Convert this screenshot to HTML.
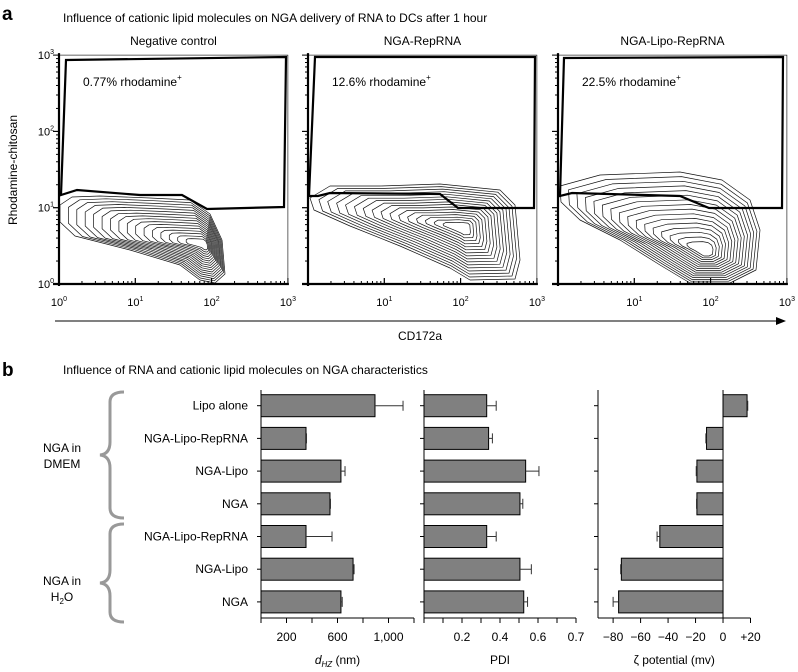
<!DOCTYPE html>
<html><head><meta charset="utf-8"><style>
body{margin:0;background:#fff}
svg{display:block;font-family:"Liberation Sans",Arial,sans-serif}
</style></head><body>
<svg id="s" width="798" height="672" viewBox="0 0 798 672">
<text x="2" y="20" font-size="19" font-weight="bold">a</text>
<text x="63" y="22" font-size="12">Influence of cationic lipid molecules on NGA delivery of RNA to DCs after 1 hour</text>
<text x="8" y="170" font-size="12" transform="rotate(-90 8 170)" text-anchor="middle" dominant-baseline="hanging">Rhodamine-chitosan</text>
<line x1="55" y1="321" x2="778" y2="321" stroke="#000" stroke-width="1"/>
<polygon points="776,317 786,321 776,325" fill="#000"/>
<text x="420" y="340" font-size="12" text-anchor="middle">CD172a</text>
<text x="2" y="376" font-size="19" font-weight="bold">b</text>
<text x="63" y="374" font-size="12">Influence of RNA and cationic lipid molecules on NGA characteristics</text>
<text x="62" y="452" font-size="12" text-anchor="middle"><tspan x="62">NGA in</tspan><tspan x="62" dy="16">DMEM</tspan></text>
<text x="62" y="585" font-size="12" text-anchor="middle"><tspan x="62">NGA in</tspan><tspan x="62" dy="16">H<tspan font-size="8" dy="3">2</tspan><tspan dy="-3">O</tspan></tspan></text>
<path d="M124,392 Q110,392 110,402 L110,442 Q110,454 100,455 Q110,456 110,468 L110,508 Q110,518 124,518" fill="none" stroke="#999" stroke-width="3"/>
<path d="M124,524 Q110,524 110,534 L110,570 Q110,582 100,583 Q110,584 110,596 L110,612 Q110,622 124,622" fill="none" stroke="#999" stroke-width="3"/>
<g id="g"></g>
</svg>
<script>
const NS="http://www.w3.org/2000/svg";
const G=document.getElementById('g');
function mk(t,a,p){const e=document.createElementNS(NS,t);for(const k in a)e.setAttribute(k,a[k]);(p||G).appendChild(e);return e;}

// ---------- Panel a: flow plots ----------
const flowTitles=["Negative control","NGA-RepRNA","NGA-Lipo-RepRNA"];
const flowPercents=["0.77%","12.6%","22.5%"];
const flowX0=[59,308,558];
const decade=76.3, yBottom=284;
const gates=[
 [[66,60],[286,57],[284,207],[207,209],[182,195],[140,195],[77,190],[61,195]],
 [[315,57],[535,57],[534,208],[458,208],[440,194],[330,193],[318,196],[309,196]],
 [[564,58],[783,57],[782,208],[709,208],[680,196],[572,193],[560,196]]];
const blobs=[
 [[60,205],[72,197],[100,196],[150,198],[190,200],[210,214],[222,240],[225,274],[215,283],[200,280],[180,265],[130,250],[75,236],[60,222]],
 [[310,198],[330,186],[380,186],[440,184],[500,190],[515,205],[520,260],[515,279],[470,280],[450,268],[400,246],[350,226],[314,210]],
 [[560,186],[600,175],[680,172],[722,180],[750,200],[760,230],[756,270],[730,283],[690,283],[660,265],[620,240],[580,220],[561,202]]];
const centers=[[205,245],[463,228],[706,252]];
flowX0.forEach((x0,i)=>{
  const p=mk('g',{});
  
  
  const x1=x0+3*decade, yT=yBottom-3*decade;
  const tt=mk('text',{x:(x0+x1)/2,y:45,'font-size':12,'text-anchor':'middle'},p);tt.textContent=flowTitles[i];
  
  const fr=mk('rect',{x:x0,y:yT,width:3*decade,height:3*decade,fill:'none',stroke:'#000','stroke-width':0.6},p);
  
  // contours
  const b=blobs[i],c=centers[i];
  for(let k=0;k<16;k++){const s=1-k*0.058;
    const d=b.map((q,j)=>(j?'L':'M')+(c[0]+(q[0]-c[0])*s).toFixed(1)+','+(c[1]+(q[1]-c[1])*s).toFixed(1)).join(' ')+'Z';
    const pe=mk('path',{d:d,fill:'none',stroke:'#111','stroke-width':0.7,'stroke-linejoin':'round'},p);
    }
  const gp=mk('polygon',{points:gates[i].map(q=>q.join(',')).join(' '),fill:'none',stroke:'#000','stroke-width':2.2},p);
  
  const pt=mk('text',{x:x0+24,y:86,'font-size':12},p);pt.innerHTML=flowPercents[i]+' rhodamine<tspan font-size="8" dy="-6">+</tspan>';
  
  // axes
  const ya=mk('line',{x1:x0,y1:yT-2,x2:x0,y2:yBottom+2,stroke:'#000','stroke-width':2.2},p);
  
  const xa=mk('line',{x1:x0-6,y1:yBottom,x2:x1+1,y2:yBottom,stroke:'#000','stroke-width':2.2},p);
  
  for(let dd=0;dd<3;dd++)for(let m=1;m<=10;m++){
    const o=decade*(dd+Math.log10(m)); const L=(m==1||m==10)?6:3;
    mk('line',{x1:x0+o,y1:yBottom,x2:x0+o,y2:yBottom-L,stroke:'#000','stroke-width':1},p);
    mk('line',{x1:x0,y1:yBottom-o,x2:x0-L,y2:yBottom-o,stroke:'#000','stroke-width':1},p);}
  for(let dd=(i?1:0);dd<=3;dd++){
    const t=mk('text',{x:x0+dd*decade,y:306,'font-size':11,'text-anchor':'middle'},p);
    t.innerHTML='10<tspan font-size="7" dy="-5">'+dd+'</tspan>';
    }
  if(i==0)for(let dd=0;dd<=3;dd++){
    const t=mk('text',{x:x0-5,y:yBottom-dd*decade+4,'font-size':11,'text-anchor':'end'},p);
    t.innerHTML='10<tspan font-size="7" dy="-5">'+dd+'</tspan>';
    }
});

// ---------- Panel b: bar charts ----------
const categories=["Lipo alone","NGA-Lipo-RepRNA","NGA-Lipo","NGA","NGA-Lipo-RepRNA","NGA-Lipo","NGA"];
const sizeValues=[894,353,627,541,353,722,627];
const sizeErrors=[220,4,32,4,204,8,10];
const pdiValues=[0.33,0.34,0.535,0.505,0.33,0.505,0.525];
const pdiErrors=[0.05,0.02,0.07,0.015,0.05,0.06,0.02];
const zetaValues=[17.5,-12,-19,-19,-46,-74,-76];
const zetaErrors=[0.5,0.5,0.5,0.3,2,0.5,4];
const sizeTicks=[200,600,1000];const sizeTickLabels=["200","600","1,000"];
const pdiTicks=[0.2,0.4,0.6];const pdiTickLabels=["0.2","0.4","0.6"];
const zetaTicks=[-80,-60,-40,-20,0,20];const zetaTickLabels=["\u221280","\u221260","\u221240","\u221220","0","+20"];

const yTop=390,yBot=618,band=32.7,barH=22;
const yCenter=i=>405.7+i*band;
categories.forEach((c,i)=>{const t=mk('text',{x:248,y:yCenter(i)+4,'font-size':12,'text-anchor':'end'});t.textContent=c;
 });

function chart(name,px0,px1,vmin,vmax,zero,vals,errs,ticks,labs,minor,title){
  const g=mk('g',{});
  const X=v=>px0+(v-vmin)/(vmax-vmin)*(px1-px0);
  const ya=mk('line',{x1:X(zero),y1:yTop,x2:X(zero),y2:yBot,stroke:'#000','stroke-width':1},g);
  
  if(zero!==vmin){mk('line',{x1:px0,y1:yTop,x2:px0,y2:yBot,stroke:'#000','stroke-width':1},g);}
  const xa=mk('line',{x1:px0,y1:yBot,x2:px1,y2:yBot,stroke:'#000','stroke-width':1},g);
  
  minor.forEach(v=>mk('line',{x1:X(v),y1:yBot,x2:X(v),y2:yBot+5,stroke:'#000','stroke-width':1},g));
  for(let i=0;i<7;i++)mk('line',{x1:px0,y1:yCenter(i),x2:px0-4,y2:yCenter(i),stroke:'#000','stroke-width':1},g);
  ticks.forEach((v,j)=>{const t=mk('text',{x:X(v),y:641,'font-size':12,'text-anchor':'middle'},g);t.textContent=labs[j];
    });
  vals.forEach((v,i)=>{
    const a=X(Math.min(v,zero)),b=X(Math.max(v,zero));
    const r=mk('rect',{x:a,y:yCenter(i)-barH/2,width:b-a,height:barH,fill:'#808080',stroke:'#000','stroke-width':1},g);
    
    const e=v+(v<0?-errs[i]:errs[i]);
    const el=mk('path',{d:`M${X(v)},${yCenter(i)}H${X(e)}M${X(e)},${yCenter(i)-5}V${yCenter(i)+5}`,stroke:'#333','stroke-width':1,fill:'none'},g);
    
  });
  const t=mk('text',{x:(px0+px1)/2,y:664,'font-size':12,'text-anchor':'middle'},g);t.innerHTML=title;
  
}
chart('size-chart',261,414,0,1200,0,sizeValues,sizeErrors,sizeTicks,sizeTickLabels,[0,200,400,600,800,1000,1200],
 '<tspan font-style="italic">d</tspan><tspan font-style="italic" font-size="8" dy="3">HZ</tspan><tspan dy="-3"> (nm)</tspan>');
chart('pdi-chart',424,576,0,0.8,0,pdiValues,pdiErrors,pdiTicks,pdiTickLabels,[0,0.1,0.2,0.3,0.4,0.5,0.6,0.7,0.8],'PDI');
{const t=mk('text',{x:576,y:641,'font-size':12,'text-anchor':'middle'});t.textContent='0.7';
 }
chart('zeta-chart',598,750.5,-91,20,0,zetaValues,zetaErrors,zetaTicks,zetaTickLabels,[-80,-60,-40,-20,0,20],'\u03B6 potential (mv)');
</script>
</body></html>
